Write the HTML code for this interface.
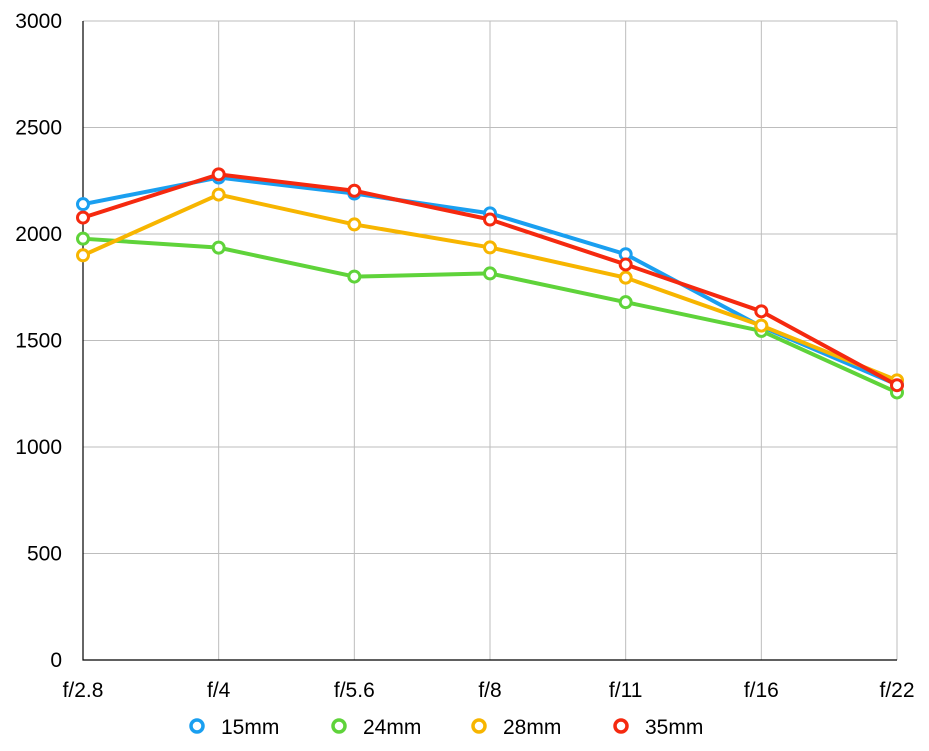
<!DOCTYPE html>
<html><head><meta charset="utf-8"><style>
body{margin:0;background:#fff;font-family:"Liberation Sans",Arial,sans-serif;}
svg text{font-family:"Liberation Sans",Arial,sans-serif;}
</style></head><body>
<svg id="chart" width="929" height="746" viewBox="0 0 929 746" xmlns="http://www.w3.org/2000/svg">
<g id="grid"></g>
<g id="axes"></g>
<g id="series"></g>
<g id="legend"></g>
</svg>
<script>
const categories = ["f/2.8","f/4","f/5.6","f/8","f/11","f/16","f/22"];
const yTicks = [0,500,1000,1500,2000,2500,3000];
const seriesNames = ["15mm","24mm","28mm","35mm"];
const seriesColors = ["#1a9ff0","#5fd33a","#f7b500","#f5290f"];
const s15 = [2140,2265,2190,2097,1905,1565,1293];
const s24 = [1978,1936,1800,1815,1680,1545,1256];
const s28 = [1900,2185,2045,1937,1795,1570,1313];
const s35 = [2077,2280,2203,2068,1857,1637,1290];
const seriesData = [s15,s24,s28,s35];

const NS="http://www.w3.org/2000/svg";
const L=83,R=897,T=21,B=660;
const xs=i=>L+(R-L)*i/(categories.length-1);
const ys=v=>B-(B-T)*v/3000;
function mk(tag,attrs,parent){const e=document.createElementNS(NS,tag);for(const k in attrs)e.setAttribute(k,attrs[k]);parent.appendChild(e);return e;}
const grid=document.getElementById('grid'),axes=document.getElementById('axes'),ser=document.getElementById('series'),leg=document.getElementById('legend');
yTicks.forEach(v=>{
  if(v>0){const l=mk('line',{x1:L,x2:R,y1:ys(v),y2:ys(v),stroke:'#bdbdbd','stroke-width':1},grid);
  
  }
  const t=mk('text',{x:62,y:ys(v)+7,'text-anchor':'end','font-size':21,fill:'#000'},axes);t.textContent=v;
  
  
});
categories.forEach((c,i)=>{
  if(i>0){const l=mk('line',{x1:xs(i),x2:xs(i),y1:T,y2:B,stroke:'#bdbdbd','stroke-width':1},grid);
  
  }
  const t=mk('text',{x:xs(i),y:697,'text-anchor':'middle','font-size':21,fill:'#000'},axes);t.textContent=c;
  
  
});
const ax=mk('path',{d:`M${L} ${T}V${B}H${R}`,stroke:'#000','stroke-width':1.2,fill:'none'},axes);


seriesData.forEach((d,si)=>{
  const g=mk('g',{},ser);
  
  
  const p=mk('polyline',{points:d.map((v,i)=>xs(i)+','+ys(v)).join(' '),fill:'none',stroke:seriesColors[si],'stroke-width':4,'stroke-linejoin':'round'},g);
  
  
  d.forEach((v,i)=>{
    const c=mk('circle',{cx:xs(i),cy:ys(v),r:5.5,fill:'#fff',stroke:seriesColors[si],'stroke-width':3},g);
    
    
  });
});
const legX=[197,339,479,621];
seriesNames.forEach((n,si)=>{
  const g=mk('g',{},leg);
  
  
  mk('circle',{cx:legX[si],cy:726,r:6,fill:'#fff',stroke:seriesColors[si],'stroke-width':3.5},g);
  const t=mk('text',{x:legX[si]+24,y:734,'font-size':21,fill:'#000'},g);t.textContent=n;
});
</script>
</body></html>
